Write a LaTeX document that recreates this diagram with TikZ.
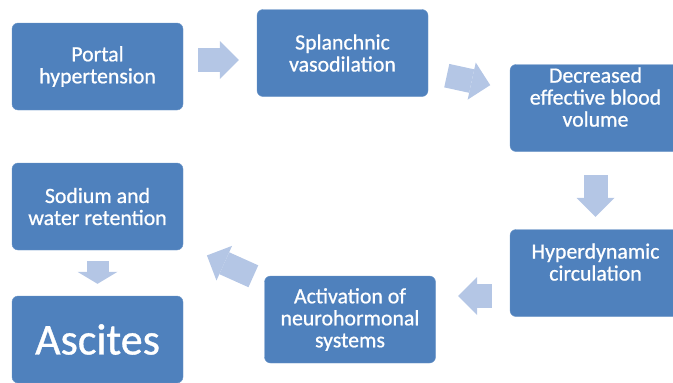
\documentclass[tikz,border=0pt]{standalone}
\usepackage{fontspec}
\setmainfont{Carlito}
\newfontfamily\stagefont{Carlito}[FakeBold=0.8]
\usetikzlibrary{arrows.meta}
\definecolor{boxblue}{RGB}{79,129,189}
\definecolor{arrowblue}{RGB}{180,198,229}
\begin{document}
\begin{tikzpicture}[x=1pt, y=-1pt,
  stage/.style={draw=boxblue!85!white, fill=boxblue, rounded corners=6pt, minimum width=171pt, minimum height=87pt, inner sep=0pt, align=center, text=white, font=\stagefont\fontsize{21.8}{22}\selectfont},
  flow/.style={draw=arrowblue, line width=24pt, -{Triangle[length=19pt 0, width=38pt 0, line width=0pt 0]}}]
\useasboundingbox (0,0) rectangle (673,383);
\node[stage] (P1) at (97.5,66.5) {Portal\\hypertension};
\node[stage] (S2) at (342.5,53) {Splanchnic\\vasodilation};
\node[stage] (D3) at (595.5,108) {Decreased\\effective blood\\volume\\\mbox{}};
\node[stage] (H4) at (595.5,273) {Hyperdynamic\\circulation\\\mbox{}};
\node[stage] (A5) at (350,319.5) {Activation of\\neurohormonal\\systems};
\node[stage] (S6) at (97.5,206.5) {Sodium and\\water retention};
\node[stage, font=\stagefont\fontsize{44}{48}\selectfont] (As7) at (97.5,339.5) {Ascites};
\draw[flow, shorten <=15pt, shorten >=18pt] (P1.east |- 0,60) -- (S2.west |- 0,60);
\draw[flow, shorten <=19pt, shorten >=20pt] (S2) -- (D3);
\draw[flow, shorten <=23.5pt, shorten >=12.5pt] (D3) -- (H4);
\draw[flow, shorten <=18pt, shorten >=22.5pt] (H4.west |- 0,296) -- (A5.east |- 0,296);
\draw[flow, shorten <=12pt, shorten >=26pt] (A5) -- (S6);
\draw[flow, line width=22pt, -{Triangle[length=12pt 0, width=40pt 0, line width=0pt 0]}, shorten <=11pt, shorten >=12pt] (S6) -- (As7);
\end{tikzpicture}
\end{document}
